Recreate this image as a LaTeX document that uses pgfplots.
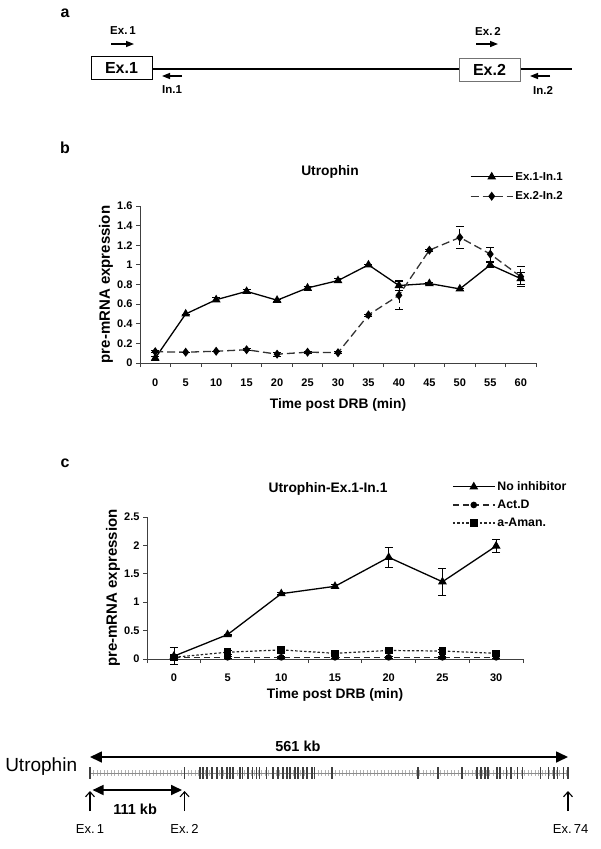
\documentclass[border=0pt]{standalone}
\usepackage{fontspec}
\setmainfont{Liberation Sans}
\usepackage{pgfplots}
\pgfplotsset{compat=1.18}
\usetikzlibrary{arrows.meta}
\newcommand\fs[1]{\fontsize{#1}{#1}\selectfont}

\pgfplotsset{
  excelleg/.style={legend image code/.code={%
    \draw[mark repeat=2,mark phase=2,##1] plot coordinates {(0pt,0pt) (21pt,0pt) (42pt,0pt)};}},
  panel/.style={
    scale only axis, anchor=south west, clip=false,
    axis x line=bottom, axis y line=left,
    axis line style={-, black!75, line width=0.8pt},
    major x tick style={draw=none},
    tick align=outside, major tick length=4pt, minor tick length=4pt,
    tick style={black!75, line width=0.8pt},
    ticklabel style={font=\fs{11}\bfseries},
    /pgf/number format/assume math mode=true,
    every axis y label/.style={at={(axis description cs:0,0.5)}, xshift=-34pt, rotate=90, anchor=center, font=\fs{15}\bfseries},
    every axis x label/.style={at={(axis description cs:0.5,0)}, anchor=center, font=\fs{13.8}\bfseries},
    error bars/y dir=both, error bars/y explicit,
    error bars/error bar style={line width=0.7pt, black},
    error bars/error mark options={mark size=4pt, line width=0.7pt, black, rotate=90},
  },
}

\begin{document}
\begin{tikzpicture}
\path[use as bounding box] (0pt,0pt) rectangle (600pt,-849pt);

% panel labels
\node[font=\fs{16}\bfseries] at (65pt,-13pt) {a};
\node[font=\fs{16}\bfseries] at (65pt,-148pt) {b};
\node[font=\fs{16}\bfseries] at (65pt,-463pt) {c};

% ---------- panel a: schematic ----------
\draw[line width=1.7pt] (152pt,-69pt) -- (572pt,-69pt);
\draw[line width=1pt, fill=white] (91pt,-56pt) rectangle (152pt,-79pt);
\node[font=\fs{16}\bfseries] at (121.5pt,-67.5pt) {Ex.1};
\draw[line width=1pt, draw=black!55, fill=white] (459pt,-58pt) rectangle (520pt,-81pt);
\node[font=\fs{16}\bfseries] at (489.5pt,-69.5pt) {Ex.2};
\begin{scope}[line width=1.4pt, -{Triangle[length=8pt,width=6pt]}]
\draw (111pt,-44pt) -- (134pt,-44pt);
\draw (182pt,-76pt) -- (162pt,-76pt);
\draw (476pt,-44pt) -- (498pt,-44pt);
\draw (550pt,-76pt) -- (530pt,-76pt);
\end{scope}
\begin{scope}[every node/.style={font=\fs{11.5}\bfseries}]
\node at (123pt,-31pt) {Ex.\,1};
\node at (172pt,-90pt) {In.1};
\node at (488pt,-31pt) {Ex.\,2};
\node at (543pt,-90pt) {In.2};
\end{scope}

% ---------- panel b ----------
\begin{axis}[panel, excelleg,
  at={(140pt,-363pt)}, width=396pt, height=157pt,
  xmin=-0.5, xmax=12.5, ymin=0, ymax=1.6,
  xtick={0,...,12}, xticklabels={0,5,10,15,20,25,30,35,40,45,50,55,60},
  minor xtick={-0.5,0.5,...,12.5},
  ytick={0,0.2,0.4,0.6,0.8,1,1.2,1.4,1.6},
  yticklabels={0,0.2,0.4,0.6,0.8,1,1.2,1.4,1.6},
  xticklabel style={yshift=-8pt},
  xlabel={Time post DRB (min)}, xlabel style={yshift=-42pt},
  ylabel={pre-mRNA expression},
  legend style={draw=none, fill=none, inner sep=0pt, row sep=6pt,
    font=\fs{11.5}\bfseries, at={(axis description cs:0.833,1.23)}, anchor=north west},
  legend cell align=left,
]
\addplot[black, line width=1.3pt, mark=triangle*, mark size=3.8pt, mark options={solid}]
  table[x=x, y=y, y error=e] {
x y e
0 0.05 0.02
1 0.50 0.00
2 0.645 0.02
3 0.73 0.02
4 0.64 0.01
5 0.765 0.02
6 0.84 0.02
7 1.00 0.01
8 0.79 0.05
9 0.81 0.01
10 0.755 0.01
11 1.00 0.03
12 0.86 0.06
};
\addlegendentry{Ex.1-In.1}
\addplot[black!80, line width=1.3pt, dash pattern=on 8pt off 4pt, mark=diamond*, mark size=3.5pt, mark options={solid, black}]
  table[x=x, y=y, y error=e] {
x y e
0 0.115 0.01
1 0.11 0.00
2 0.12 0.00
3 0.135 0.01
4 0.09 0.02
5 0.11 0.01
6 0.105 0.01
7 0.49 0.01
8 0.69 0.14
9 1.15 0.01
10 1.28 0.11
11 1.11 0.07
12 0.88 0.10
};
\addlegendentry{Ex.2-In.2}
\node[font=\fs{13.8}\bfseries] at (rel axis cs:0.5,1) [xshift=-8pt, yshift=34pt] {Utrophin};
\end{axis}

% ---------- panel c ----------
\begin{axis}[panel, excelleg,
  at={(147pt,-659pt)}, width=376pt, height=142pt,
  xmin=-0.5, xmax=6.5, ymin=0, ymax=2.5,
  xtick={0,...,6}, xticklabels={0,5,10,15,20,25,30},
  minor xtick={-0.5,0.5,...,6.5},
  ytick={0,0.5,1,1.5,2,2.5},
  yticklabels={0,0.5,1,1.5,2,2.5},
  xticklabel style={yshift=-7pt},
  xlabel={Time post DRB (min)}, xlabel style={yshift=-36pt},
  ylabel={pre-mRNA expression},
  legend style={draw=none, fill=none, inner sep=0pt, row sep=4pt,
    font=\fs{12.3}\bfseries, at={(axis description cs:0.811,1.265)}, anchor=north west},
  legend cell align=left,
]
\addplot[black, line width=1.3pt, mark=triangle*, mark size=3.8pt, mark options={solid}]
  table[x=x, y=y, y error=e] {
x y e
0 0.05 0.15
1 0.43 0.01
2 1.15 0.02
3 1.28 0.04
4 1.79 0.17
5 1.36 0.24
6 1.99 0.12
};
\addlegendentry{No inhibitor}
\addplot[black!85, line width=1.2pt, dash pattern=on 6pt off 4pt, mark=*, mark size=2.7pt, mark options={solid, black}]
  table[x=x, y=y, y error=e] {
x y e
0 0.03 0.01
1 0.03 0.01
2 0.03 0.01
3 0.03 0.01
4 0.03 0.01
5 0.03 0.01
6 0.03 0.01
};
\addlegendentry{Act.D}
\addplot[black!85, line width=1.2pt, dash pattern=on 2.5pt off 2pt, mark=square*, mark size=3.2pt, mark options={solid, black}]
  table[x=x, y=y, y error=e] {
x y e
0 0.03 0.01
1 0.12 0.04
2 0.16 0.02
3 0.10 0.04
4 0.15 0.02
5 0.14 0.03
6 0.10 0.04
};
\addlegendentry{a-Aman.}
\node[font=\fs{13.8}\bfseries] at (rel axis cs:0.5,1) [xshift=-7pt, yshift=28pt] {Utrophin-Ex.1-In.1};
\end{axis}

% ---------- gene map ----------
\begin{axis}[at={(90pt,-783pt)}, anchor=south west, scale only axis,
  width=478pt, height=20pt, xmin=0, xmax=561, ymin=-10, ymax=10,
  hide axis, clip=false]
\addplot[black!30, line width=6pt, dash pattern=on 0.6pt off 2.9pt] coordinates {(0,0) (561,0)};
\addplot[black!45, line width=0.7pt] coordinates {(0,0) (561,0)};
\addplot[only marks, mark=|, mark size=6pt, black!75, mark options={line width=1.1pt}] coordinates {
(0,0) (111,0) (129.1,0) (132.6,0) (137.3,0) (143.2,0) (149.0,0) (154.9,0) (160.8,0) (164.3,0)
(167.8,0) (176.0,0) (179.5,0) (185.4,0) (191.2,0) (195.9,0) (199.4,0) (207.6,0) (214.8,0)
(220.6,0) (226.5,0) (231.2,0) (234.7,0) (240.6,0) (244.1,0) (250.0,0) (254.7,0) (260.5,0)
(264.0,0) (284.0,0) (384.9,0) (408.4,0) (436.6,0) (454.2,0) (458.9,0) (463.6,0) (467.1,0)
(477.7,0) (481.2,0) (488.3,0) (494.1,0) (501.2,0) (507.1,0) (528.2,0) (537.6,0) (544.6,0)
(548.2,0) (555.2,0) (561,0)};
\addplot[line width=1.7pt, {Triangle[length=12pt,width=11pt]}-{Triangle[length=12pt,width=11pt]}] coordinates {(0,16) (561,16)};
\addplot[line width=1.7pt, {Triangle[length=11pt,width=10pt]}-{Triangle[length=11pt,width=10pt]}] coordinates {(3,-17) (108,-17)};
\addplot[line width=1.1pt, -{Straight Barb[length=5pt,width=9pt]}] coordinates {(0,-38) (0,-18)};
\addplot[line width=1.1pt, -{Straight Barb[length=5pt,width=9pt]}] coordinates {(111,-38) (111,-18)};
\addplot[line width=1.1pt, -{Straight Barb[length=5pt,width=9pt]}] coordinates {(561,-38) (561,-18)};
\node[font=\fs{14.5}\bfseries] at (axis cs:244,27) {561 kb};
\node[font=\fs{14.5}\bfseries] at (axis cs:53,-36) {111 kb};
\node[font=\fs{13}] at (axis cs:0,-56) {Ex.\,1};
\node[font=\fs{13}] at (axis cs:111,-56) {Ex.\,2};
\node[font=\fs{13}] at (axis cs:564,-56) {Ex.\,74};
\node[font=\fs{19}, anchor=east] at (axis cs:-11,6) {Utrophin};
\end{axis}
\end{tikzpicture}
\end{document}
